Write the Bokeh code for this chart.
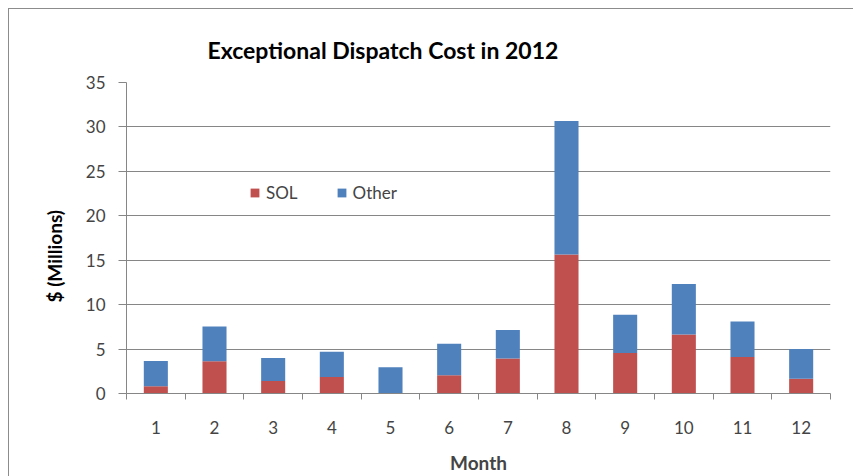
from bokeh.plotting import figure
from bokeh.models import ColumnDataSource, FixedTicker, Range1d, Title, Legend, LegendItem
from bokeh.embed import file_html
from bokeh.resources import INLINE

months = ["1", "2", "3", "4", "5", "6", "7", "8", "9", "10", "11", "12"]
sol = [0.82, 3.62, 1.42, 1.87, 0.05, 2.05, 3.94, 15.64, 4.55, 6.65, 4.10, 1.65]
other = [2.84, 3.92, 2.57, 2.83, 2.90, 3.55, 3.22, 15.04, 4.30, 5.66, 4.01, 3.35]
y_ticks = [0, 5, 10, 15, 20, 25, 30, 35]

FONT = "Lato"
GRID = "#868686"

x_pos = list(range(1, len(months) + 1))
src = ColumnDataSource(dict(x=x_pos, SOL=sol, Other=other))

p = figure(width=853, height=476, output_backend="svg", toolbar_location=None,
           x_range=Range1d(0.5, len(months) + 0.5), y_range=Range1d(0, 35),
           min_border_left=126, min_border_right=23, min_border_top=82, min_border_bottom=82)
p.border_fill_alpha = 0
p.background_fill_color = "white"
p.styles = {
    "background-color": "white",
    "background-image": "linear-gradient(#8c8c8c, #8c8c8c), linear-gradient(#8c8c8c, #8c8c8c)",
    "background-size": "100% 1px, 1px 100%",
    "background-position": "8px 8px, 8px 8px",
    "background-repeat": "no-repeat",
}

p.title = Title(text="Exceptional Dispatch Cost in 2012", align="left", offset=81,
                text_font=FONT, text_font_size="23px", text_font_style="bold",
                text_color="black", standoff=37)

r = p.vbar_stack(["SOL", "Other"], x="x", width=0.41, source=src,
                 color=["#C0504D", "#4F81BD"], line_color=None)

p.outline_line_color = None
p.xgrid.grid_line_color = None
p.ygrid.grid_line_color = GRID
p.ygrid.ticker = FixedTicker(ticks=y_ticks)

xa = p.xaxis[0]
xa.ticker = FixedTicker(ticks=x_pos, minor_ticks=[i + 0.5 for i in range(0, len(months) + 1)])
xa.major_label_overrides = {i + 1: m for i, m in enumerate(months)}
xa.major_tick_out = 0
xa.major_tick_in = 0
xa.minor_tick_out = 6
xa.minor_tick_in = 0
xa.minor_tick_line_color = GRID
xa.axis_line_color = GRID
xa.major_label_text_font = FONT
xa.major_label_text_font_size = "17px"
xa.major_label_standoff = 21
xa.axis_label = "Month"
xa.axis_label_text_font = FONT
xa.axis_label_text_font_size = "19px"
xa.axis_label_text_font_style = "bold"
xa.axis_label_standoff = 14

ya = p.yaxis[0]
ya.ticker = FixedTicker(ticks=y_ticks, minor_ticks=[])
ya.major_tick_out = 8
ya.major_tick_in = 0
ya.major_tick_line_color = GRID
ya.axis_line_color = GRID
ya.major_label_text_font = FONT
ya.major_label_text_font_size = "17px"
ya.major_label_standoff = 13

ytitle = Title(text="$ (Millions)", align="left", offset=91,
               text_font=FONT, text_font_size="19px", text_font_style="bold",
               text_color="black", standoff=34)
p.add_layout(ytitle, "left")

legend = Legend(items=[LegendItem(label="SOL", renderers=[r[0]]),
                       LegendItem(label="Other", renderers=[r[1]])],
                orientation="horizontal", location=(123, 190),
                glyph_width=11, glyph_height=11, label_standoff=6, spacing=38,
                padding=0, margin=0, border_line_color=None, background_fill_alpha=0,
                label_text_font=FONT, label_text_font_size="17px")
p.add_layout(legend, "center")

open("out.html", "w").write(file_html(p, INLINE))
